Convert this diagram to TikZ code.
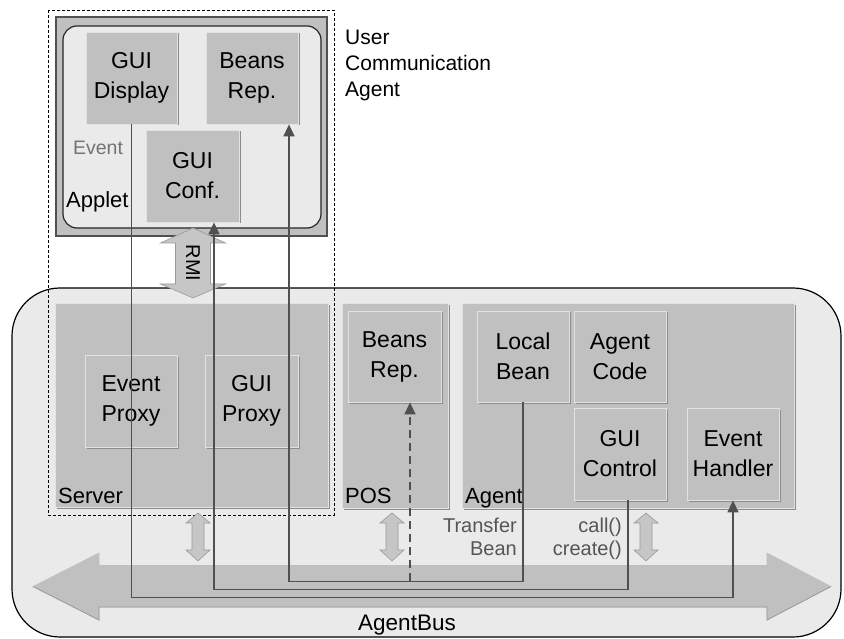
\documentclass[tikz,border=0pt]{standalone}
\usepackage{fontspec}
\setmainfont{Liberation Sans}
\usetikzlibrary{arrows.meta,shadows,calc}
\definecolor{cBox}{HTML}{C0C0C0}
\definecolor{cLight}{HTML}{EAEAEA}
\definecolor{cEdge}{HTML}{E2E2E2}
\definecolor{cShadow}{HTML}{8C8C8C}
\definecolor{cLine}{HTML}{505050}
\definecolor{cArrow}{HTML}{C6C6C6}
\definecolor{cArrowEdge}{HTML}{9A9A9A}
\definecolor{cTxt}{HTML}{555555}
\tikzset{
  boxstyle/.style={fill=cBox, draw=cEdge, line width=0.8pt,
    drop shadow={shadow xshift=1.5pt, shadow yshift=-1.5pt, fill=cShadow, opacity=1},
    align=center, inner sep=0pt, font=\fontsize{23}{30}\selectfont},
  areabox/.style={fill=cBox, draw=cEdge, line width=0.8pt,
    drop shadow={shadow xshift=2pt, shadow yshift=-2pt, fill=cShadow, opacity=1},
    inner sep=0pt},
  arealabel/.style={anchor=base west, inner sep=0pt, font=\fontsize{22}{26}\selectfont},
  flow/.style={draw=cLine, line width=1.6pt},
  tip/.style={-{Triangle[length=12pt,width=11pt]}},
  notelabel/.style={inner sep=0pt, text=cTxt, font=\fontsize{20}{23}\selectfont, align=right},
  smallarrow/.style={fill=cArrow, draw=cArrowEdge, line width=0.6pt},
}
\begin{document}
\begin{tikzpicture}[x=1pt,y=-1pt]
\useasboundingbox[fill=white] (0,0) rectangle (844,639);

% big container
\path[fill=cLight, draw=black, line width=1.2pt, rounded corners=48pt] (12,288) rectangle (841,637);

% applet
\path[fill=cBox, draw=cLine, line width=1.4pt] (56,17) rectangle (327,236);
\path[fill=cLight, draw=black!85, line width=1.2pt, rounded corners=14pt] (63,26) rectangle (321,228);

% user communication agent dashed frame
\draw[dashed, line width=0.8pt, dash pattern=on 3pt off 2pt] (48,10) rectangle (334,515);

\node[anchor=base west, inner sep=0pt, align=left, font=\fontsize{21}{26}\selectfont] (uca) at (345,97) {User\\Communication\\Agent};

% applet contents
\node[boxstyle, minimum width=91pt, minimum height=92pt] (gd) at (131.5,78) {GUI\\Display};
\node[boxstyle, minimum width=92pt, minimum height=92pt] (br1) at (252,78) {Beans\\Rep.};
\node[boxstyle, minimum width=93pt, minimum height=92pt] (gf) at (192.5,176) {GUI\\Conf.};
\node[anchor=base, inner sep=0pt, text=black!55, font=\fontsize{19.5}{22}\selectfont] (ev) at (98,155) {Event};
\node[arealabel] (applet) at (66,208) {Applet};

% RMI arrow
\path[fill=cArrow, draw=cArrowEdge, line width=0.6pt] (193,228) -- (225.5,243) -- (210.5,243) -- (210.5,284) -- (225.5,284) -- (193,298) -- (160.5,284) -- (175.5,284) -- (175.5,243) -- (160.5,243) -- cycle;
\node[rotate=-90, inner sep=0pt, font=\fontsize{20}{24}\selectfont] (rmi) at (193,263) {RMI};

% areas
\node[areabox, minimum width=273pt, minimum height=204pt] (srv) at (191.5,405) {};
\node[areabox, minimum width=106pt, minimum height=205pt] (pos) at (395,405.5) {};
\node[areabox, minimum width=332pt, minimum height=205pt] (agt) at (628,405.5) {};
\node[arealabel] (srvl) at (58,503) {Server};
\node[arealabel] (posl) at (345,503) {POS};
\node[arealabel] (agtl) at (465,503) {Agent};

\node[boxstyle, minimum width=92pt, minimum height=92pt] (ep) at (131,401) {Event\\Proxy};
\node[boxstyle, minimum width=93pt, minimum height=92pt] (gp) at (251.5,401) {GUI\\Proxy};
\node[boxstyle, minimum width=93pt, minimum height=91pt] (br2) at (394.5,356.5) {Beans\\Rep.};
\node[boxstyle, minimum width=92pt, minimum height=91pt] (lb) at (523,356.5) {Local\\Bean};
\node[boxstyle, minimum width=92pt, minimum height=91pt] (ac) at (620,356.5) {Agent\\Code};
\node[boxstyle, minimum width=92pt, minimum height=92pt] (gc) at (620,454) {GUI\\Control};
\node[boxstyle, minimum width=92pt, minimum height=92pt] (eh) at (733,454) {Event\\Handler};

% small double arrows
\foreach \cx in {198,392,646}{
  \path[smallarrow] (\cx,513) -- ++(12,10) -- ++(-6,0) -- ++(0,27) -- ++(6,0) -- ++(-12,11) -- ++(-12,-11) -- ++(6,0) -- ++(0,-27) -- ++(-6,0) -- cycle;
}

% AgentBus arrow
\path[fill=cBox, draw=cBox, line width=0.6pt] (33,586.5) -- (99,553) -- (99,565.5) -- (767,565.5) -- (767,553) -- (831,586.5) -- (767,620) -- (767,607) -- (99,607) -- (99,620) -- cycle;
\draw[cArrowEdge, line width=0.8pt] (33,586.5) -- (99,620) -- (99,607) -- (767,607) -- (767,620) -- (831,586.5);
\node[anchor=base, inner sep=0pt, font=\fontsize{22.5}{26}\selectfont] (bus) at (407,630) {AgentBus};

% labels on bus
\node[notelabel, anchor=base east] (tb) at (517,555) {Transfer\\Bean};
\node[notelabel, anchor=base east] (cc) at (622,555) {call()\\create()};

% flows
\draw[flow, tip] (gd.south) -- ++(0,473) -| (eh.south);
\draw[flow, tip] ([xshift=8pt]gc.south) -- ++(0,89) -| ([xshift=21.5pt]gf.south);
\draw[flow, tip] (lb.south) -- ++(0,179) -| ([xshift=37pt]br1.south);
\draw[flow, tip, dashed, dash pattern=on 8pt off 5pt] ([xshift=15.5pt]br2.south) ++(0,179) -- ([xshift=15.5pt]br2.south);
\end{tikzpicture}
\end{document}
